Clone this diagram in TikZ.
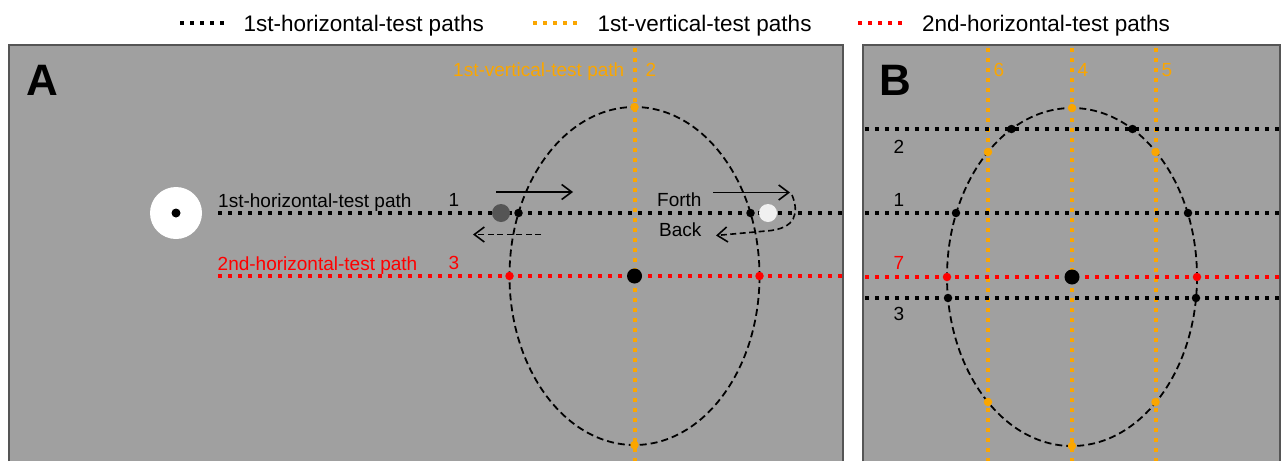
\documentclass[tikz,border=0pt]{standalone}
\usepackage{fontspec}
\setmainfont{Liberation Sans}
\usetikzlibrary{arrows.meta}
\definecolor{panelgray}{RGB}{160,160,160}
\definecolor{bordergray}{RGB}{85,85,85}
\definecolor{pathorange}{RGB}{250,166,0}
\definecolor{pathred}{RGB}{255,0,0}
\definecolor{darkball}{RGB}{85,85,85}
\definecolor{lightball}{RGB}{240,240,240}
\tikzset{
  dotline/.style={line width=4pt, dash pattern=on 4pt off 6pt},
  blackpath/.style={dotline, black},
  orangepath/.style={dotline, pathorange},
  redpath/.style={dotline, pathred},
  ellpath/.style={black, line width=1.8pt, dash pattern=on 7pt off 4pt},
  pt/.style={circle, inner sep=0pt, minimum size=8.5pt},
  bdot/.style={pt, fill=black},
  odot/.style={pt, fill=pathorange},
  rdot/.style={pt, fill=pathred},
  cdot/.style={circle, inner sep=0pt, minimum size=15pt, fill=black},
  ball/.style={circle, inner sep=0pt, minimum size=18pt},
  lbl/.style={inner sep=0pt, font=\fontsize{19}{22}\selectfont},
  leg/.style={inner sep=0pt, anchor=base west, font=\fontsize{22.5}{26}\selectfont},
  big/.style={inner sep=0pt, anchor=base west, font=\fontsize{44}{50}\selectfont\bfseries},
  arr/.style={line width=1.6pt, -{Straight Barb[length=10pt,width=15pt]}},
  darr/.style={line width=1.6pt, dash pattern=on 6pt off 3.5pt, -{Straight Barb[length=10pt,width=15pt]}},
  frame/.style={bordergray, line width=2.5pt}
}
\begin{document}
\begin{tikzpicture}[x=1pt,y=-1pt]
\useasboundingbox (0,0) rectangle (1285,461);
\fill[white] (0,0) rectangle (1285,461);

% ---------- legend ----------
\draw[blackpath] (180,23) -- (225,23);
\node[leg] (l1) at (243.5,31) {1st-horizontal-test paths};
\draw[orangepath] (533,23) -- (578,23);
\node[leg] (l2) at (597.5,31) {1st-vertical-test paths};
\draw[redpath] (858,23) -- (903,23);
\node[leg] (l3) at (922,31) {2nd-horizontal-test paths};

% ---------- panel A ----------
\fill[panelgray] (8,44) rectangle (844,461);
\draw[frame] (9.2,461) -- (9.2,45.2) -- (843.2,45.2) -- (843.2,461);
\node[big] (A) at (26,95) {A};

% paths
\draw[blackpath] (218,213) -- (842,213);
\draw[redpath] (218,276) -- (842,276);
\draw[orangepath] (634.5,48) -- (634.5,461);
\draw[ellpath] (634.5,276) ellipse [x radius=125, y radius=169];

% labels
\node[lbl, anchor=base west] (hA) at (218,207) {1st-horizontal-test path};
\node[lbl, anchor=base west, text=pathred] (rA) at (217.5,270) {2nd-horizontal-test path};
\node[lbl, anchor=base west, text=pathorange] (vA) at (453,76) {1st-vertical-test path};
\node[lbl, anchor=base, text=pathorange] (n2A) at (651,76) {2};
\node[lbl, anchor=base] (n1A) at (454,206) {1};
\node[lbl, anchor=base, text=pathred] (n3A) at (454,269) {3};
\node[lbl, anchor=base west] (forth) at (657,206) {Forth};
\node[lbl, anchor=base west] (back) at (659,236) {Back};

% fixation
\node[circle, fill=white, inner sep=0pt, minimum size=52pt] (fix) at (176,213) {};
\node[circle, fill=black, inner sep=0pt, minimum size=9pt] (fixc) at (fix.center) {};

% dots
\node[ball, fill=darkball] (gball) at (501,213) {};
\node[ball, fill=lightball] (wball) at (768,213) {};
\node[bdot] (a1) at (518.5,213) {};
\node[bdot] (a2) at (750.5,213) {};
\node[rdot] (a3) at (509.5,276) {};
\node[rdot] (a4) at (759.5,276) {};
\node[odot] (a5) at (634.5,107) {};
\node[odot] (a6) at (634.5,445) {};
\node[cdot] (a0) at (634.5,276) {};

% arrows
\coordinate (f1s) at (496,192);
\coordinate (f1e) at (573,192);
\draw[arr] (f1s) -- (f1e);
\coordinate (b1s) at (541,234.5);
\coordinate (b1e) at (473,234.5);
\draw[darr] (b1s) -- (b1e);
\coordinate (f2s) at (713,192.5);
\coordinate (f2e) at (790,192.5);
\draw[arr] (f2s) -- (f2e);
\coordinate (b2s) at (792,195);
\coordinate (b2m) at (766,231);
\coordinate (b2e) at (716,235.5);
\draw[darr] (b2s) .. controls (799,212) and (797,229) .. (b2m) -- (b2e);

% ---------- panel B ----------
\fill[panelgray] (862,44) rectangle (1281,461);
\draw[frame] (863.2,461) -- (863.2,45.2) -- (1279.8,45.2) -- (1279.8,461);
\node[big] (B) at (879,95) {B};

\draw[orangepath] (988,48) -- (988,461);
\draw[orangepath] (1072,48) -- (1072,461);
\draw[orangepath] (1155.5,48) -- (1155.5,461);
\draw[blackpath] (865,129) -- (1279,129);
\draw[blackpath] (865,213) -- (1279,213);
\draw[redpath] (865,277) -- (1279,277);
\draw[blackpath] (865,298) -- (1279,298);
\draw[ellpath] (1072,277) ellipse [x radius=125, y radius=169];

\node[lbl, anchor=base, text=pathorange] (n6) at (999,76) {6};
\node[lbl, anchor=base, text=pathorange] (n4) at (1083,76) {4};
\node[lbl, anchor=base, text=pathorange] (n5) at (1167,76) {5};
\node[lbl, anchor=base] (m2) at (899,153) {2};
\node[lbl, anchor=base] (m1) at (899,206) {1};
\node[lbl, anchor=base, text=pathred] (m7) at (899,269) {7};
\node[lbl, anchor=base] (m3) at (899,320) {3};

\node[odot] (b1) at (1072,108) {};
\node[odot] (b2) at (1072,446) {};
\node[odot] (b3) at (988,152) {};
\node[odot] (b4) at (1155.5,152) {};
\node[odot] (b5) at (988,402) {};
\node[odot] (b6) at (1155.5,402) {};
\node[bdot] (b7) at (1011.5,129) {};
\node[bdot] (b8) at (1132.5,129) {};
\node[bdot] (b9) at (956,213) {};
\node[bdot] (b10) at (1188,213) {};
\node[bdot] (b11) at (948,298) {};
\node[bdot] (b12) at (1196,298) {};
\node[rdot] (b13) at (947,277) {};
\node[rdot] (b14) at (1197,277) {};
\node[cdot] (b0) at (1072,277) {};
\end{tikzpicture}
\end{document}
